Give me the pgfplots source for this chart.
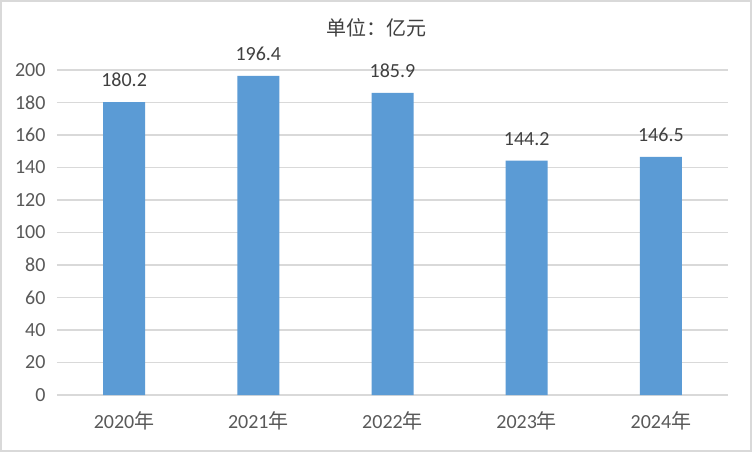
\documentclass[border=0pt]{standalone}
\usepackage{fontspec}
\setmainfont{Carlito}
\newfontfamily\cjk{Noto Sans CJK SC}
\usepackage{pgfplots}
\pgfplotsset{compat=1.18}
\definecolor{barblue}{HTML}{5B9BD5}
\definecolor{gridgray}{HTML}{D9D9D9}
\definecolor{txt}{HTML}{404040}
\definecolor{ticktxt}{HTML}{595959}
\begin{document}
\begin{tikzpicture}
\useasboundingbox (0pt,0pt) rectangle (752pt,-452pt);
\fill[white] (0pt,0pt) rectangle (752pt,-452pt);
\draw[gridgray, line width=2pt] (1pt,-1pt) rectangle (751pt,-451pt);
\node[text=txt, font=\fontsize{20}{22}\selectfont\cjk] at (376pt,-28pt) {单位：亿元};
\begin{axis}[
    at={(57pt,-395pt)}, anchor=south west,
    scale only axis,
    width=671pt, height=325pt,
    xmin=-0.5, xmax=4.5,
    ymin=0, ymax=200,
    ytick={0,20,...,200},
    xtick=data,
    xticklabels={2020{\cjk 年},2021{\cjk 年},2022{\cjk 年},2023{\cjk 年},2024{\cjk 年}},
    axis line style={draw=none},
    major tick length=0pt,
    ymajorgrids,
    grid style={gridgray, line width=1.3pt},
    tick label style={text=ticktxt, font=\fontsize{20}{22}\selectfont},
    /pgf/number format/assume math mode=true,
    yticklabel style={xshift=-8pt},
    xticklabel style={yshift=-13pt},
    clip=false,
    ]
\addplot[ybar, bar width=42pt, fill=barblue, draw=none, bar shift=0pt,
    nodes near coords,
    nodes near coords style={text=txt, font=\fontsize{20}{22}\selectfont, anchor=south, inner sep=0pt, yshift=15pt, /pgf/number format/.cd, fixed, fixed zerofill, precision=1, assume math mode=true}]
    coordinates {(0,180.2) (1,196.4) (2,185.9) (3,144.2) (4,146.5)};
\end{axis}
\end{tikzpicture}
\end{document}
